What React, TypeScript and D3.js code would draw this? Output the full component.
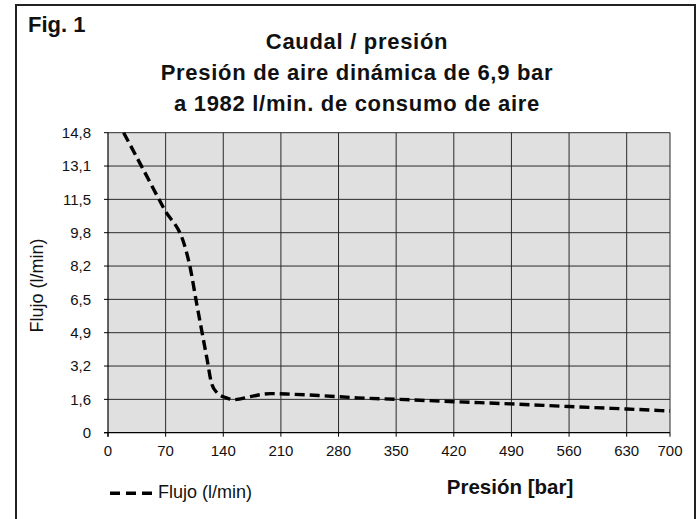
import React from "react";
import * as d3 from "d3";

const xTickValues = [0, 70, 140, 210, 280, 350, 420, 490, 560, 630, 700];
const yTickLabels = ["0", "1,6", "3,2", "4,9", "6,5", "8,2", "9,8", "11,5", "13,1", "14,8"];
const yMax = 14.8;

const presion = [19, 40, 68, 94, 99, 108, 120, 126, 133, 143, 153, 173, 197, 222, 262, 303, 350, 420, 490, 560, 630, 700];
const flujo = [14.8, 13.2, 11.05, 9.1, 8.3, 6.3, 3.7, 2.4, 1.95, 1.73, 1.63, 1.78, 1.93, 1.9, 1.82, 1.72, 1.65, 1.53, 1.42, 1.29, 1.17, 1.07];

const titleLines = ["Caudal / presión", "Presión de aire dinámica de 6,9 bar", "a 1982 l/min. de consumo de aire"];
const seriesName = "Flujo (l/min)";
const xTitle = "Presión [bar]";
const yTitle = "Flujo (l/min)";
const figLabel = "Fig. 1";

const W = 699;
const H = 519;
const FONT = "'Liberation Sans', Arial, Helvetica, sans-serif";

export default function App() {
  const left = 108;
  const top = 132.7;
  const bottom = 432.7;
  const x = d3.scaleLinear().domain([0, 630, 700]).range([left, 626.7, 670]);
  const y = d3.scaleLinear().domain([0, yMax]).range([bottom, top]);
  const right = x(700);
  const yTicks = yTickLabels.map((_, i) => (i * yMax) / (yTickLabels.length - 1));

  const data = presion.map((p, i) => [p, flujo[i]] as [number, number]);
  const line = d3
    .line<[number, number]>()
    .x((d) => x(d[0]))
    .y((d) => y(d[1]))
    .curve(d3.curveMonotoneX);

  return (
    <svg width={W} height={H} style={{ position: "absolute", left: 0, top: 0, background: "#fff" }} fontFamily={FONT}>
      <rect x={0} y={0} width={W} height={H} fill="#fff" />
      {/* outer frame */}
      <path d={`M16,${H + 5} L16,5 L695,5 L695,${H + 5}`} fill="none" stroke="#222" strokeWidth={2} />
      <text x={28} y={32} fontSize={22} fontWeight="bold" fill="#111">{figLabel}</text>
      {titleLines.map((t, i) => (
        <text key={i} x={357} y={49 + i * 31} fontSize={22} fontWeight="bold" textAnchor="middle" fill="#111" letterSpacing={0.7}>
          {t}
        </text>
      ))}
      {/* plot background */}
      <rect x={left} y={top} width={right - left} height={bottom - top} fill="#e0e0e0" />
      {/* grid */}
      {yTicks.slice(1).map((v, i) => (
        <line key={"gy" + i} x1={left} x2={right} y1={y(v)} y2={y(v)} stroke="#2a2a2a" strokeWidth={1} />
      ))}
      {xTickValues.slice(1).map((v, i) => (
        <line key={"gx" + i} x1={x(v)} x2={x(v)} y1={top} y2={bottom} stroke="#2a2a2a" strokeWidth={1} />
      ))}
      {/* axes */}
      <line x1={left} x2={left} y1={top} y2={bottom + 4} stroke="#000" strokeWidth={1.2} />
      <line x1={left - 4} x2={right} y1={bottom} y2={bottom} stroke="#000" strokeWidth={1.2} />
      {yTicks.map((v, i) => (
        <g key={"yt" + i}>
          <line x1={left - 4} x2={left} y1={y(v)} y2={y(v)} stroke="#000" />
          <text x={91} y={y(v)} dy="0.35em" fontSize={15} textAnchor="end" fill="#111">
            {yTickLabels[i]}
          </text>
        </g>
      ))}
      {xTickValues.map((v, i) => (
        <g key={"xt" + i}>
          <line x1={x(v)} x2={x(v)} y1={bottom} y2={bottom + 4} stroke="#000" />
          <text x={x(v)} y={456} fontSize={15} textAnchor="middle" fill="#111">
            {String(v)}
          </text>
        </g>
      ))}
      {/* series */}
      <path d={line(data) || ""} fill="none" stroke="#000" strokeWidth={3.4} strokeDasharray="10 5" />
      {/* axis titles */}
      <text transform={`translate(42.5,285.5) rotate(-90)`} fontSize={18} textAnchor="middle" fill="#111">
        {yTitle}
      </text>
      <text x={510} y={494} fontSize={20.5} fontWeight="bold" textAnchor="middle" fill="#111">
        {xTitle}
      </text>
      {/* legend */}
      <line x1={110} x2={152} y1={493.3} y2={493.3} stroke="#000" strokeWidth={3.4} strokeDasharray="10 6" />
      <text x={158} y={497.5} fontSize={18} fill="#111">{seriesName}</text>
    </svg>
  );
}
